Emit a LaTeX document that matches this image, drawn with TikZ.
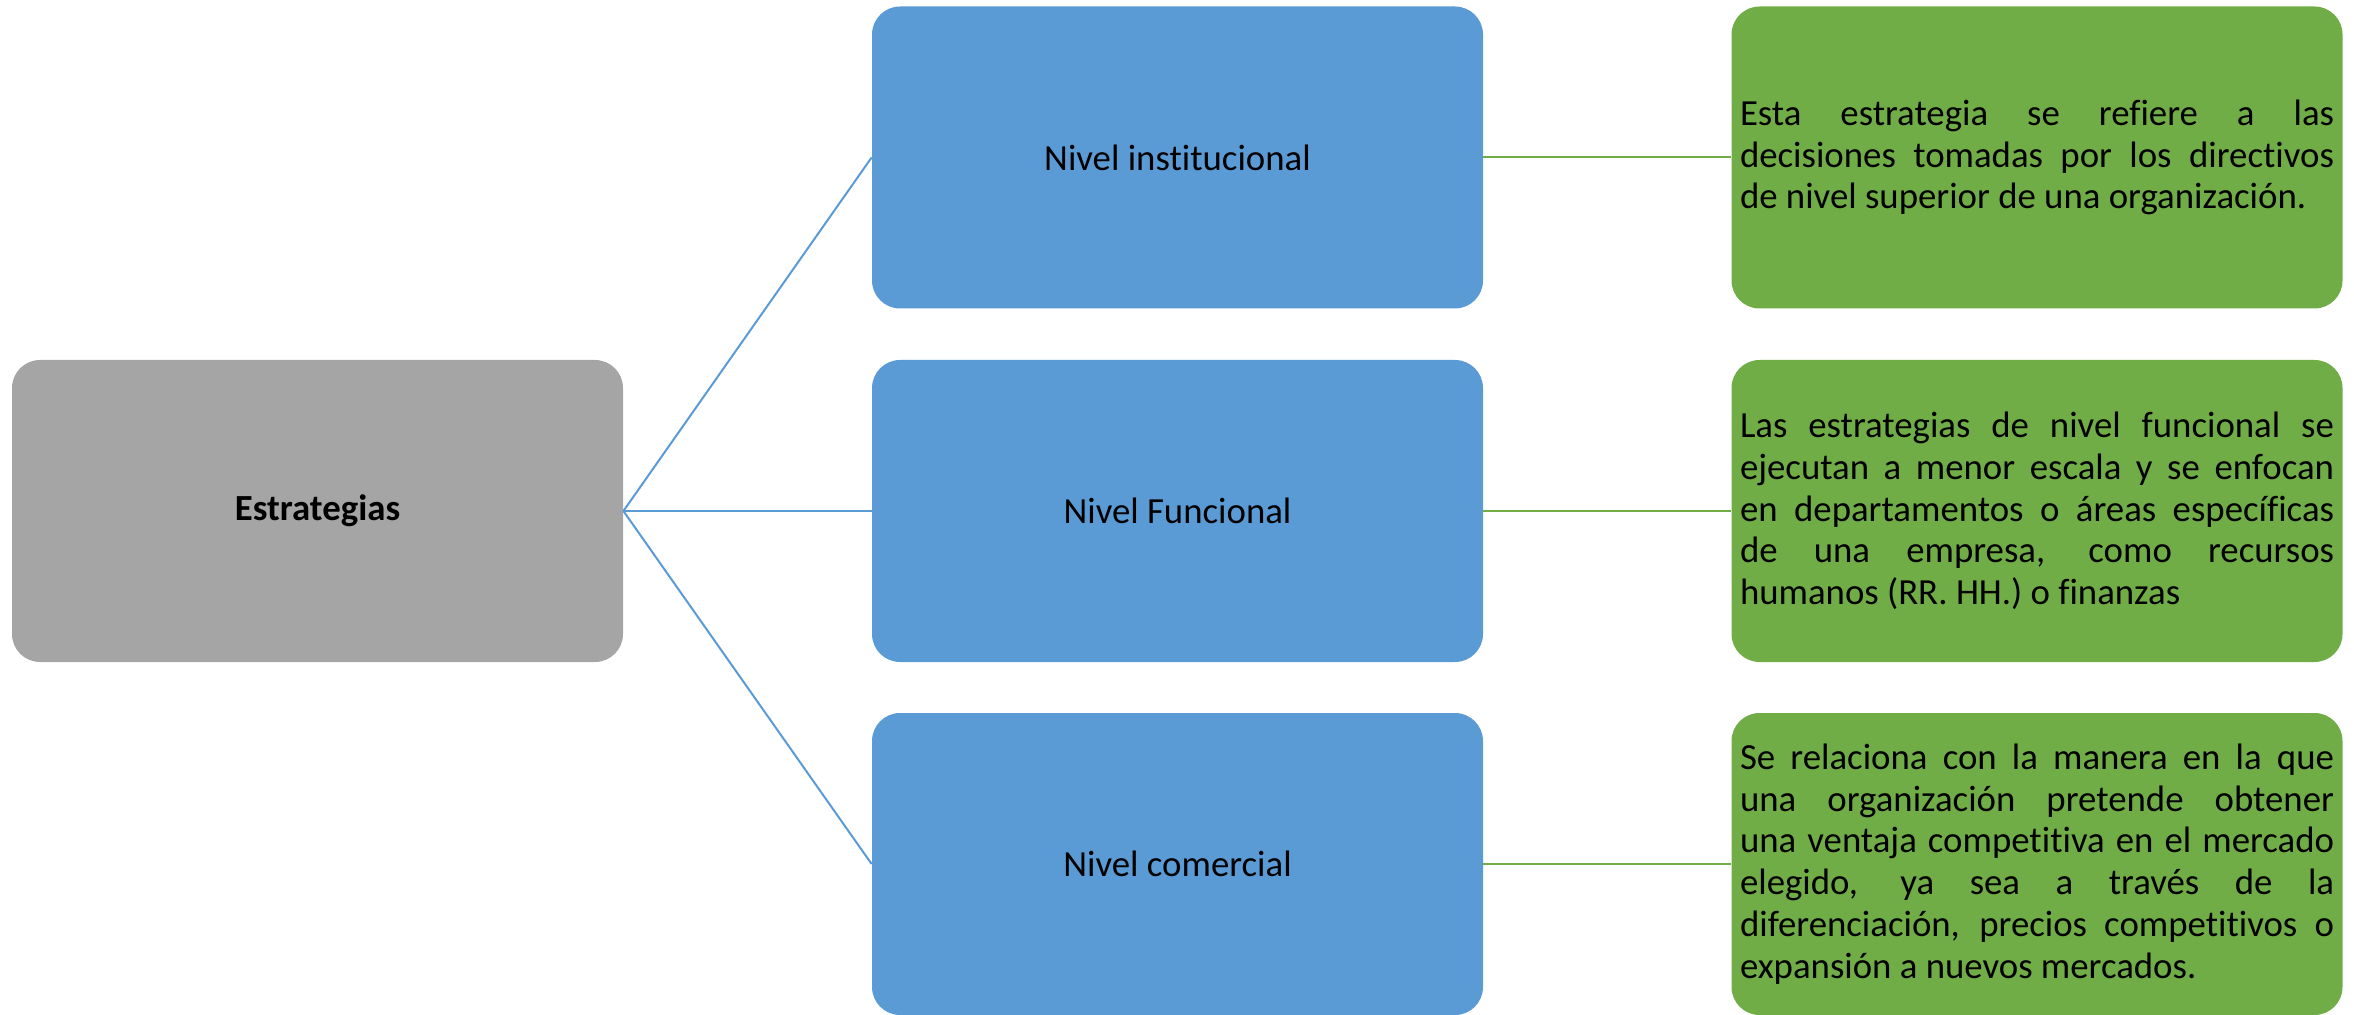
\documentclass[tikz,border=0pt]{standalone}
\usepackage{fontspec}
\setmainfont{Carlito}[RawFeature={-liga}]
\definecolor{boxblue}{HTML}{5B9BD5}
\definecolor{boxgreen}{HTML}{70AD47}
\definecolor{boxgray}{HTML}{A5A5A5}
\begin{document}
\begin{tikzpicture}[x=0.5pt,y=-0.5pt,
  card/.style={rectangle, rounded corners=14pt, draw=none, inner sep=0pt,
    minimum width=305.5pt, minimum height=151pt,
    font=\fontsize{18.4pt}{20.85pt}\selectfont, text=black},
  rootcard/.style={card, fill=boxgray, font=\fontsize{18.4pt}{20.85pt}\selectfont\bfseries},
  levelcard/.style={card, fill=boxblue},
  notecard/.style={card, fill=boxgreen, text width=297pt, inner xsep=4.25pt, align=justify,
    execute at begin node={\hyphenpenalty=10000\exhyphenpenalty=10000\tolerance=10000\emergencystretch=2em}},
  branch/.style={draw=boxblue, line width=1pt},
  link/.style={draw=boxgreen, line width=1pt}]
\useasboundingbox (0,0) rectangle (2354,1015);

% root
\node[rootcard] (root) at (317.5,511) {Estrategias};

% levels
\node[levelcard] (inst) at (1177.5,157.5) {Nivel institucional};
\node[levelcard] (func) at (1177.5,511) {Nivel Funcional};
\node[levelcard] (come) at (1177.5,864) {Nivel comercial};

% descriptions
\node[notecard] (dinst) at (2037,157.5) {Esta estrategia se refiere a las\linebreak
decisiones tomadas por los directivos\linebreak
de nivel superior de una organización.};
\node[notecard] (dfunc) at (2037,511) {Las estrategias de nivel funcional se\linebreak
ejecutan a menor escala y se enfocan\linebreak
en departamentos o áreas específicas\linebreak
de una empresa, como recursos\linebreak
humanos (RR. HH.) o finanzas};
\node[notecard] (dcome) at (2037,864) {Se relaciona con la manera en la que\linebreak
una organización pretende obtener\linebreak
una ventaja competitiva en el mercado\linebreak
elegido, ya sea a través de la\linebreak
diferenciación, precios competitivos o\linebreak
expansión a nuevos mercados.};

% connectors
\draw[branch] (root.east) -- (inst.west);
\draw[branch] (root.east) -- (func.west);
\draw[branch] (root.east) -- (come.west);
\draw[link] (inst.east) -- (dinst.west);
\draw[link] (func.east) -- (dfunc.west);
\draw[link] (come.east) -- (dcome.west);
\end{tikzpicture}
\end{document}
